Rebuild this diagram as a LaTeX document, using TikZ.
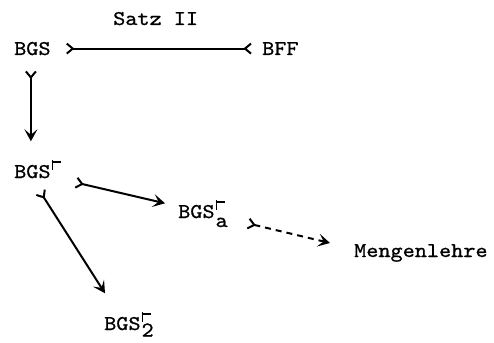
\documentclass[tikz,border=0pt]{standalone}
\usepackage{fontspec}
\setmonofont{lmmono10-regular.otf}[FakeStretch=1.1,FakeBold=0.8]
\usetikzlibrary{arrows.meta,calc}
% small assertion sign set after a name, above its index
\newcommand\assertmark{\rlap{\rule[8.5pt]{1.8pt}{10pt}}\rule[15pt]{9pt}{1.8pt}}
\tikzset{
  TailBarb/.tip={Straight Barb[reversed,length=6pt,width=10pt,line width=2pt]},
  HeadBarb/.tip={Stealth[length=12pt,width=13pt,inset=5.5pt]},
  lbl/.style={anchor=base west, inner sep=0pt,
    font=\ttfamily\fontsize{21pt}{25pt}\selectfont},
  conn/.style={line width=2pt, TailBarb-HeadBarb},
}
\begin{document}
\begin{tikzpicture}[x=1pt,y=-1pt]
  \useasboundingbox[fill=white] (0,0) rectangle (494,342);

  % labels
  \node[lbl] (satz) at (113,25)  {Satz II};
  \node[lbl] (bgs)  at (14,55)   {BGS};
  \node[lbl] (bff)  at (262,55)  {BFF};
  \node[lbl] (bgs1) at (14,178)  {BGS\kern1pt\assertmark};
  \node[lbl] (bgsa) at (178,218) {BGS\kern1pt\rlap{\assertmark}\raisebox{-9pt}{a}};
  \node[lbl] (bgs2) at (104,330) {BGS\kern1pt\rlap{\assertmark}\raisebox{-6.5pt}{2}};
  \node[lbl] (meng) at (354,257) {Mengenlehre};

  % connectors
  \draw[line width=2pt, TailBarb-TailBarb]
    ($(bgs.east)+(15,0)$) -- ($(bff.west)+(-10,0)$);
  \draw[conn]
    ($(bgs.south)+(-1.5,15)$) -- ($(bgs.south |- bgs1.north)+(-1.5,-18)$);
  \draw[conn]
    ($(bgs1.south east)+(14.6,4)$) -- ($(bgsa.north west)+(-13,4)$);
  \draw[conn]
    ($(bgs1.south west)+(26,13)$) -- ($(bgs2.north west)+(1,-18)$);
  \draw[conn, dash pattern=on 6pt off 5pt]
    ($(bgsa.south east)+(19.6,-4)$) -- ($(meng.west)+(-24,-10)$);
\end{tikzpicture}
\end{document}
